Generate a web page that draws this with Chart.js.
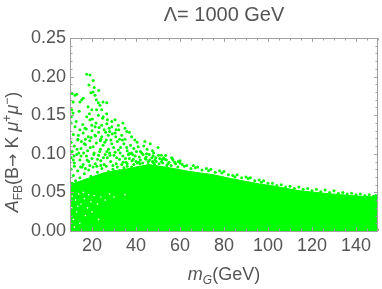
<!DOCTYPE html>
<html>
<head>
<meta charset="utf-8">
<script src="https://cdn.jsdelivr.net/npm/chart.js@4.4.0/dist/chart.umd.min.js"></script>
<style>
  html, body { margin: 0; padding: 0; background: #fff; }
  #wrap { width: 382px; height: 289px; }
</style>
</head>
<body>
<div id="wrap"><canvas id="c"></canvas></div>
<script>
// dichter Bereich: obere Kante der fast geschlossenen gruenen Flaeche
const envX = [10, 15, 20, 25, 30, 35, 40, 46, 55, 64.5, 75, 83, 96, 101, 114.5, 125, 133, 142, 150];
const envY = [0.06, 0.065, 0.07, 0.075, 0.078, 0.08, 0.083, 0.086, 0.082, 0.077, 0.073, 0.068, 0.061, 0.059, 0.052, 0.049, 0.047, 0.045, 0.044];

// einzelne Punkte oberhalb der Flaeche (x = m_G, y = A_FB)
const ptsX = [
  17.6, 19.1, 18.6, 20.5, 11, 12.3, 13, 11.4, 14.5, 15.3, 19.5, 20.5, 21.4, 22, 22.9, 23.6, 25, 26.7, 10.8, 11.4,
  18.2, 19.9, 22.1, 24.4, 17.6, 19.1, 22.9, 25.1, 26.7, 29, 30.5, 21, 23, 16,
  12.3, 14.5, 16.8, 19.9, 21.4, 24.4, 26.7, 29, 32, 35, 35.8, 13.8, 16, 18.3, 21.4, 24.4, 27.4, 30.5, 33.5, 38,
  39.5, 10.5, 27, 31, 37, 23, 28, 34, 20, 11.5, 25.5, 32.5,
  10.5, 12, 13.5, 15, 16.5, 18, 19, 20.5, 22, 23.5, 25, 26.5, 27.5, 29, 30.5, 31.5, 33, 34.5, 36, 37.5,
  39, 40.5, 42, 43.5, 45, 46.5, 48, 50, 11, 14, 17, 24, 28, 35, 41, 44, 47.5, 38, 21, 32,
  10.5, 12, 13, 14.5, 16, 17.5, 18.5, 20, 21.5, 23, 24, 25.5, 27, 28.5, 30, 31, 32.5, 34, 35.5, 37,
  38.5, 40, 41.5, 43, 44.5, 46, 47.5, 49, 50.5, 52, 53.5, 55, 56.5, 58, 60, 11.5, 15, 19, 22.5, 26,
  29.5, 33.5, 36.5, 39, 42, 45.5, 48.5, 51.5, 54,
  10.5, 11.5, 12.5, 13.5, 14.5, 15.5, 16.5, 17.5, 18.5, 19.5, 20.5, 21.5, 22.5, 23.5, 24.5, 25.5, 26.5, 27.5, 28.5, 29.5,
  30.5, 31.5, 32.5, 33.5, 34.5, 36, 38, 11, 13, 16, 19, 22, 25, 28, 12, 17, 24, 30,
  56, 59, 62, 65, 67, 70, 73, 76, 79, 82, 85, 88, 91, 94, 97, 100, 104, 108, 112, 116,
  120, 124, 128, 132, 136, 140, 144, 148, 60, 66, 72, 78, 84, 90, 98, 106, 114, 122, 130, 138, 146,
  10.3, 11.8, 13.2, 14.8, 16.2, 17.8, 19.2, 20.8, 22.2, 23.8, 25.2, 26.8, 28.2, 29.8, 31.2, 32.8, 34.2, 35.8, 37.2, 38.8,
  40.2, 41.8, 43.2, 44.8, 46.2, 47.8, 49.2, 50.8, 52.2, 53.8,
  10.6, 12.8, 14.2, 15.8, 17.4, 18.8, 20.2, 21.8, 23.2, 24.8, 26.2, 27.8, 29.2, 30.8, 32.2, 33.8, 15.2, 19.6, 23.8, 28.6,
  13.6, 17.0, 21.6, 25.8,
  35.2, 36.8, 38.2, 39.6, 41.2, 42.6, 44.2, 45.6, 47.2, 48.6, 50.2, 51.6, 53.2, 54.6, 56.2, 57.6, 59.2, 61, 63, 36,
  40.6, 44.6, 48, 52.6, 56.8,
  68, 74, 80, 86, 92, 96, 102, 110, 118, 126, 134, 142, 149
];
const ptsY = [
  0.203, 0.202, 0.189, 0.195, 0.178, 0.176, 0.177, 0.167, 0.167, 0.170, 0.179, 0.180, 0.176, 0.170, 0.166, 0.163, 0.167, 0.166, 0.157, 0.153,
  0.161, 0.157, 0.157, 0.157, 0.148, 0.144, 0.150, 0.148, 0.152, 0.142, 0.144, 0.186, 0.182, 0.172,
  0.135, 0.131, 0.133, 0.137, 0.135, 0.137, 0.139, 0.135, 0.137, 0.133, 0.129, 0.124, 0.127, 0.122, 0.124, 0.122, 0.124, 0.127, 0.124, 0.122,
  0.118, 0.140, 0.144, 0.131, 0.128, 0.128, 0.129, 0.140, 0.130, 0.125, 0.131, 0.119,
  0.115, 0.110, 0.118, 0.107, 0.113, 0.104, 0.117, 0.109, 0.114, 0.103, 0.111, 0.118, 0.106, 0.113, 0.102, 0.116, 0.108, 0.113, 0.104, 0.111,
  0.107, 0.115, 0.103, 0.110, 0.106, 0.113, 0.101, 0.108, 0.103, 0.101, 0.119, 0.119, 0.101, 0.119, 0.109, 0.116, 0.104, 0.101, 0.101, 0.105,
  0.095, 0.088, 0.099, 0.092, 0.086, 0.097, 0.090, 0.094, 0.087, 0.098, 0.091, 0.086, 0.095, 0.090, 0.098, 0.087, 0.093, 0.097, 0.089, 0.094,
  0.099, 0.090, 0.096, 0.088, 0.093, 0.099, 0.090, 0.095, 0.087, 0.093, 0.098, 0.089, 0.094, 0.087, 0.091, 0.092, 0.097, 0.085, 0.093, 0.099,
  0.085, 0.086, 0.099, 0.086, 0.092, 0.086, 0.086, 0.098, 0.085,
  0.080, 0.072, 0.065, 0.078, 0.069, 0.083, 0.074, 0.066, 0.079, 0.071, 0.083, 0.064, 0.076, 0.068, 0.081, 0.073, 0.084, 0.077, 0.069, 0.080,
  0.074, 0.083, 0.078, 0.071, 0.082, 0.084, 0.083, 0.062, 0.058, 0.061, 0.059, 0.070, 0.066, 0.062, 0.084, 0.081, 0.085, 0.067,
  0.085, 0.083, 0.084, 0.081, 0.082, 0.079, 0.078, 0.076, 0.075, 0.073, 0.070, 0.069, 0.068, 0.065, 0.063, 0.062, 0.059, 0.057, 0.055, 0.054,
  0.052, 0.051, 0.050, 0.049, 0.048, 0.047, 0.046, 0.045, 0.088, 0.085, 0.081, 0.078, 0.072, 0.070, 0.065, 0.060, 0.057, 0.054, 0.052, 0.049, 0.047,
  0.102, 0.097, 0.106, 0.083, 0.101, 0.092, 0.108, 0.099, 0.084, 0.106, 0.095, 0.103, 0.098, 0.108, 0.095, 0.101, 0.089, 0.108, 0.100, 0.093,
  0.103, 0.087, 0.099, 0.100, 0.092, 0.097, 0.090, 0.094, 0.088, 0.092,
  0.148, 0.142, 0.155, 0.138, 0.132, 0.152, 0.145, 0.140, 0.134, 0.146, 0.128, 0.133, 0.126, 0.122, 0.131, 0.118, 0.116, 0.121, 0.117, 0.118,
  0.119, 0.112, 0.123, 0.115,
  0.094, 0.100, 0.091, 0.097, 0.089, 0.101, 0.094, 0.090, 0.095, 0.092, 0.098, 0.090, 0.093, 0.087, 0.095, 0.089, 0.090, 0.086, 0.085, 0.087,
  0.088, 0.096, 0.088, 0.095, 0.092,
  0.083, 0.080, 0.077, 0.073, 0.069, 0.066, 0.062, 0.058, 0.055, 0.053, 0.050, 0.048, 0.046
];

// weisse Luecken links unten in der Punktwolke
const gapX = [11, 12.5, 14, 15, 16.5, 18, 13, 11.5, 17, 19.5, 21, 14.5, 12, 20, 22.5, 24, 16, 18.5, 26, 28, 23, 30, 35, 13.5, 10.8];
const gapY = [0.045, 0.040, 0.048, 0.035, 0.042, 0.030, 0.025, 0.015, 0.020, 0.038, 0.046, 0.010, 0.005, 0.025, 0.035, 0.044, 0.050, 0.047, 0.040, 0.048, 0.015, 0.044, 0.047, 0.032, 0.030];

const xMajor = [20, 40, 60, 80, 100, 120, 140];
const yMajor = [0, 0.05, 0.1, 0.15, 0.2, 0.25];

const GREEN = "#00ff00";
const TXT = "#555555";
const FRAME = "#a0a0a0";
const FONT = '"Liberation Sans", Arial, sans-serif';

const zip = (xs, ys) => xs.map((x, i) => ({ x: x, y: ys[i] }));

// Rahmen mit Ticks nach innen und Achsentitel
const framePlugin = {
  id: "frame",
  afterDraw(chart) {
    const { ctx, chartArea: a, scales } = chart;
    const xs = scales.x, ys = scales.y;
    ctx.save();
    ctx.strokeStyle = FRAME;
    ctx.lineWidth = 1;
    ctx.strokeRect(a.left + 0.5, a.top + 0.5, a.right - a.left - 1, a.bottom - a.top);

    ctx.beginPath();
    for (let v = 10; v <= 150; v += 5) {
      const px = Math.round(xs.getPixelForValue(v)) + 0.5;
      const len = v % 20 === 0 ? 4 : 2.5;
      ctx.moveTo(px, a.bottom); ctx.lineTo(px, a.bottom - len);
      ctx.moveTo(px, a.top); ctx.lineTo(px, a.top + len);
    }
    for (let i = 0; i <= 25; i++) {
      const py = Math.round(ys.getPixelForValue(i / 100)) + 0.5;
      const len = i % 5 === 0 ? 4 : 2.5;
      ctx.moveTo(a.left, py); ctx.lineTo(a.left + len, py);
      ctx.moveTo(a.right, py); ctx.lineTo(a.right - len, py);
    }
    ctx.stroke();

    ctx.fillStyle = TXT;
    ctx.textBaseline = "alphabetic";

    // Titel
    ctx.font = "20px " + FONT;
    ctx.textAlign = "center";
    ctx.fillText("\u039B= 1000 GeV", (a.left + a.right) / 2, 21);

    // Text aus Stuecken (normal / tief / hoch)
    const drawParts = (parts, cx, cy) => {
      let w = 0;
      parts.forEach(p => { ctx.font = p.f; w += ctx.measureText(p.t).width; });
      let x = cx - w / 2;
      ctx.textAlign = "left";
      parts.forEach(p => {
        ctx.font = p.f;
        ctx.fillText(p.t, x, cy + (p.dy || 0));
        x += ctx.measureText(p.t).width;
      });
    };

    // x-Achse: m_G(GeV)
    drawParts([
      { t: "m", f: "italic 18px " + FONT },
      { t: "G", f: "italic 12px " + FONT, dy: 4 },
      { t: "(GeV)", f: "18px " + FONT }
    ], (a.left + a.right) / 2, 280);

    // y-Achse: A_FB(B-> K mu+ mu-)
    ctx.save();
    ctx.translate(18, 152);
    ctx.rotate(-Math.PI / 2);
    drawParts([
      { t: "A", f: "italic 18px " + FONT },
      { t: "FB", f: "12px " + FONT, dy: 4 },
      { t: "(B", f: "18px " + FONT },
      { t: "\u2192", f: "16px \"DejaVu Sans\", sans-serif" },
      { t: " K ", f: "18px " + FONT },
      { t: "\u03BC", f: "italic 18px " + FONT },
      { t: "+", f: "12px " + FONT, dy: -7 },
      { t: "\u03BC", f: "italic 18px " + FONT },
      { t: "\u2212", f: "12px " + FONT, dy: -7 },
      { t: ")", f: "18px " + FONT }
    ], 0, 0);
    ctx.restore();

    ctx.restore();
  }
};

new Chart(document.getElementById("c"), {
  type: "scatter",
  data: {
    datasets: [
      {
        data: zip(envX, envY),
        showLine: true,
        fill: "origin",
        backgroundColor: GREEN,
        borderColor: GREEN,
        borderWidth: 1,
        pointRadius: 0,
        tension: 0,
        order: 3
      },
      {
        data: zip(gapX, gapY),
        backgroundColor: "#ffffff",
        borderWidth: 0,
        pointRadius: 0.8,
        order: 2
      },
      {
        data: zip(ptsX, ptsY),
        backgroundColor: GREEN,
        borderWidth: 0,
        pointRadius: 1.5,
        order: 1
      }
    ]
  },
  options: {
    responsive: true,
    maintainAspectRatio: false,
    animation: false,
    layout: { padding: { top: 38, right: 4, left: 0, bottom: 0 } },
    plugins: { legend: { display: false }, tooltip: { enabled: false } },
    scales: {
      x: {
        type: "linear",
        min: 10,
        max: 150,
        afterBuildTicks: s => { s.ticks = xMajor.map(v => ({ value: v })); },
        afterFit: s => { s.height = 58; },
        grid: { display: false, drawTicks: false },
        border: { display: false },
        ticks: { color: TXT, font: { family: FONT, size: 18 }, padding: 4, maxRotation: 0 }
      },
      y: {
        min: 0,
        max: 0.25,
        afterBuildTicks: s => { s.ticks = yMajor.map(v => ({ value: v })); },
        afterFit: s => { s.width = 70; },
        grid: { display: false, drawTicks: false },
        border: { display: false },
        ticks: { color: TXT, font: { family: FONT, size: 18 }, padding: 4, callback: v => v.toFixed(2) }
      }
    }
  },
  plugins: [framePlugin]
});
</script>
</body>
</html>
